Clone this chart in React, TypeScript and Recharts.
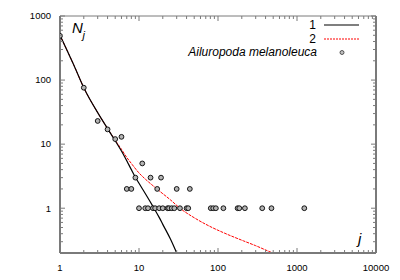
import React from 'react';
import { ComposedChart, Line, Scatter, XAxis, YAxis } from 'recharts';

// observed counts: j = number of individuals, n = number of groups with that size
const obsJ = [1, 2, 3, 4, 5, 6, 7, 8, 9, 10, 11, 12, 13, 14, 15, 16, 17, 18, 19, 20, 23, 24, 26, 28, 30, 33, 40, 42, 44, 81, 87, 94, 117, 177, 186, 219, 363, 475, 1237];
const obsN = [490, 76, 23, 17, 12, 13, 2, 2, 3, 1, 5, 1, 1, 3, 1, 1, 2, 1, 3, 1, 1, 1, 1, 1, 2, 1, 1, 1, 2, 1, 1, 1, 1, 1, 1, 1, 1, 1, 1];

// model 1 (black solid)
const fit1J = [1, 1.5, 2, 3, 4, 5, 6, 7, 8, 9, 10, 12, 15, 18, 20, 25, 30];
const fit1N = [500, 170, 76, 31, 17.5, 11.3, 7.8, 5.5, 4.0, 3.05, 2.45, 1.7, 1.07, 0.72, 0.56, 0.33, 0.2];

// model 2 (red dashed)
const fit2J = [1, 1.5, 2, 3, 4, 5, 6, 7, 8, 10, 12, 15, 18.5, 25, 33, 50, 79, 120, 209, 300, 470, 560];
const fit2N = [500, 170, 76, 31, 17.5, 11.5, 8.3, 6.2, 5.0, 3.55, 2.85, 2.25, 1.82, 1.35, 1.0, 0.71, 0.52, 0.41, 0.31, 0.26, 0.205, 0.188];

const xMajor = [1, 10, 100, 1000, 10000];
const xTicks = [1, 2, 3, 4, 5, 6, 7, 8, 9, 10, 20, 30, 40, 50, 60, 70, 80, 90, 100, 200, 300, 400, 500, 600, 700, 800, 900, 1000, 2000, 3000, 4000, 5000, 6000, 7000, 8000, 9000, 10000];
const yMajor = [1, 10, 100, 1000];
const yTicks = [0.2, 0.3, 0.4, 0.5, 0.6, 0.7, 0.8, 0.9, 1, 2, 3, 4, 5, 6, 7, 8, 9, 10, 20, 30, 40, 50, 60, 70, 80, 90, 100, 200, 300, 400, 500, 600, 700, 800, 900, 1000];

const observed = obsJ.map((j, i) => ({ j, n: obsN[i] }));
const model1 = fit1J.map((j, i) => ({ j, n: fit1N[i] }));
const model2 = fit2J.map((j, i) => ({ j, n: fit2N[i] }));

const FONT = '"Liberation Sans", Arial, sans-serif';
const AXIS = '#7a7a7a';

const makeTick = (side: 'bottom' | 'top' | 'left' | 'right', majors: number[]) => (props: any) => {
  const { x, y, payload } = props;
  const major = majors.includes(payload.value);
  const len = major ? 5 : 3;
  let line;
  if (side === 'bottom') line = <line x1={x} y1={y} x2={x} y2={y - len} />;
  else if (side === 'top') line = <line x1={x} y1={y} x2={x} y2={y + len} />;
  else if (side === 'left') line = <line x1={x} y1={y} x2={x + len} y2={y} />;
  else line = <line x1={x} y1={y} x2={x - len} y2={y} />;
  return (
    <g>
      <g stroke={AXIS} strokeWidth={1}>{line}</g>
      {major && side === 'bottom' && (
        <text x={x} y={y + 18} textAnchor="middle" fill="#000" fontSize={9.5} fontFamily={FONT}>
          {payload.value}
        </text>
      )}
      {major && side === 'left' && (
        <text x={x - 9} y={y} dy="0.35em" textAnchor="end" fill="#000" fontSize={9.5} fontFamily={FONT}>
          {payload.value}
        </text>
      )}
    </g>
  );
};

const Dot = (p: any) => (
  <circle cx={p.cx} cy={p.cy} r={2.4} fill="#b4b4b4" stroke="#000" strokeWidth={0.9} />
);

export default function App() {
  return (
    <div style={{ position: 'absolute', left: 0, top: 0, width: 400, height: 280, background: '#fff' }}>
      <ComposedChart width={400} height={280} margin={{ top: 0, right: 0, bottom: 0, left: 0 }}>
        <XAxis
          dataKey="j"
          type="number"
          scale="log"
          domain={[1, 10000]}
          allowDataOverflow
          ticks={xTicks}
          interval={0}
          tickSize={0}
          tickMargin={0}
          tickLine={false}
          height={27}
          axisLine={{ stroke: AXIS, strokeWidth: 2 }}
          tick={makeTick('bottom', xMajor)}
        />
        <XAxis
          xAxisId="top"
          orientation="top"
          dataKey="j"
          type="number"
          scale="log"
          domain={[1, 10000]}
          allowDataOverflow
          ticks={xTicks}
          interval={0}
          tickSize={0}
          tickMargin={0}
          tickLine={false}
          height={16}
          axisLine={{ stroke: AXIS, strokeWidth: 1 }}
          tick={makeTick('top', xMajor)}
        />
        <YAxis
          dataKey="n"
          type="number"
          scale="log"
          domain={[0.2, 1000]}
          allowDataOverflow
          ticks={yTicks}
          interval={0}
          tickSize={0}
          tickMargin={0}
          tickLine={false}
          width={60}
          axisLine={{ stroke: AXIS, strokeWidth: 2 }}
          tick={makeTick('left', yMajor)}
        />
        <YAxis
          yAxisId="right"
          orientation="right"
          dataKey="n"
          type="number"
          scale="log"
          domain={[0.2, 1000]}
          allowDataOverflow
          ticks={yTicks}
          interval={0}
          tickSize={0}
          tickMargin={0}
          tickLine={false}
          width={24}
          axisLine={{ stroke: AXIS, strokeWidth: 2 }}
          tick={makeTick('right', yMajor)}
        />
        {/* invisible series so the mirrored top/right axes get drawn */}
        <Line xAxisId="top" yAxisId="right" data={model1} dataKey="n" stroke="none" dot={false} activeDot={false} isAnimationActive={false} />
        <Line data={model2} dataKey="n" type="monotone" stroke="#ff0000" strokeWidth={1} strokeDasharray="3 1" dot={false} isAnimationActive={false} />
        <Line data={model1} dataKey="n" type="monotone" stroke="#000" strokeWidth={1.2} dot={false} isAnimationActive={false} />
        <Scatter data={observed} dataKey="n" shape={Dot} isAnimationActive={false} />
      </ComposedChart>
      <svg width={400} height={280} style={{ position: 'absolute', left: 0, top: 0, pointerEvents: 'none' }}>
        <g fontFamily={FONT} fill="#000">
          <text x={72} y={33} fontSize={15} fontStyle="italic">N</text>
          <text x={82.5} y={39} fontSize={11} fontStyle="italic">j</text>
          <text x={358} y={244} fontSize={15} fontStyle="italic">j</text>
          <text x={316} y={29} fontSize={12} textAnchor="end">1</text>
          <text x={316} y={43} fontSize={12} textAnchor="end">2</text>
          <text x={317} y={56} fontSize={12} fontStyle="italic" textAnchor="end">Ailuropoda melanoleuca</text>
        </g>
        <line x1={324} y1={25} x2={359} y2={25} stroke="#000" strokeWidth={1.2} />
        <line x1={324} y1={39} x2={360} y2={39} stroke="#ff0000" strokeWidth={1} strokeDasharray="2 1" />
        <circle cx={342} cy={52.5} r={2} fill="#c0c0c0" stroke="#333" strokeWidth={0.8} />
      </svg>
    </div>
  );
}
